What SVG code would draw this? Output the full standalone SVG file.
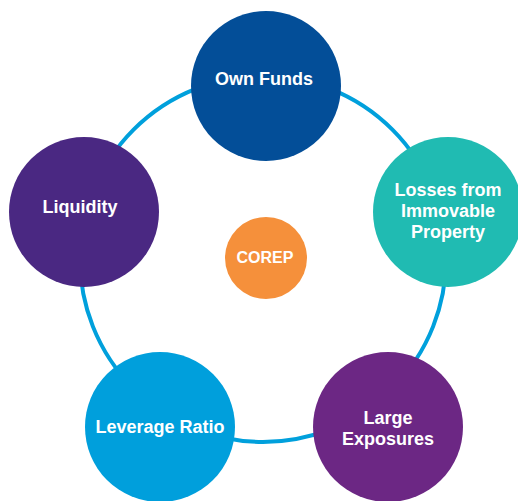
<svg xmlns="http://www.w3.org/2000/svg" width="518" height="501" viewBox="0 0 518 501">
  <style>
    .lbl { font-family: "Liberation Sans", Arial, sans-serif; font-weight: bold; font-size: 18px; fill: #ffffff; text-anchor: middle; }
    .ring { fill: none; stroke: #00A0DC; stroke-width: 4; }
  </style>
  <rect width="518" height="501" fill="#ffffff"/>
  <!-- connecting ring behind the nodes -->
  <g id="connectors">
    <circle class="ring" cx="263" cy="259" r="183"/>
  </g>
  <g id="own-funds">
    <circle cx="266" cy="86" r="75" fill="#034E98"/>
    <text class="lbl" x="264" y="85">Own Funds</text>
  </g>
  <g id="losses-immovable-property">
    <circle cx="448" cy="212" r="75" fill="#20BBB2"/>
    <text class="lbl" x="448" y="196">Losses from</text>
    <text class="lbl" x="448" y="217">Immovable</text>
    <text class="lbl" x="448" y="238">Property</text>
  </g>
  <g id="large-exposures">
    <circle cx="388" cy="427" r="75" fill="#6C2784"/>
    <text class="lbl" x="388" y="424">Large</text>
    <text class="lbl" x="388" y="445">Exposures</text>
  </g>
  <g id="leverage-ratio">
    <circle cx="160" cy="427" r="75" fill="#009FDC"/>
    <text class="lbl" x="160" y="433">Leverage Ratio</text>
  </g>
  <g id="liquidity">
    <circle cx="84" cy="212" r="75" fill="#4A2882"/>
    <text class="lbl" x="80" y="213">Liquidity</text>
  </g>
  <g id="corep">
    <circle cx="266" cy="258" r="41" fill="#F5903B"/>
    <text class="lbl" x="265" y="263" style="font-size:16px">COREP</text>
  </g>
</svg>
